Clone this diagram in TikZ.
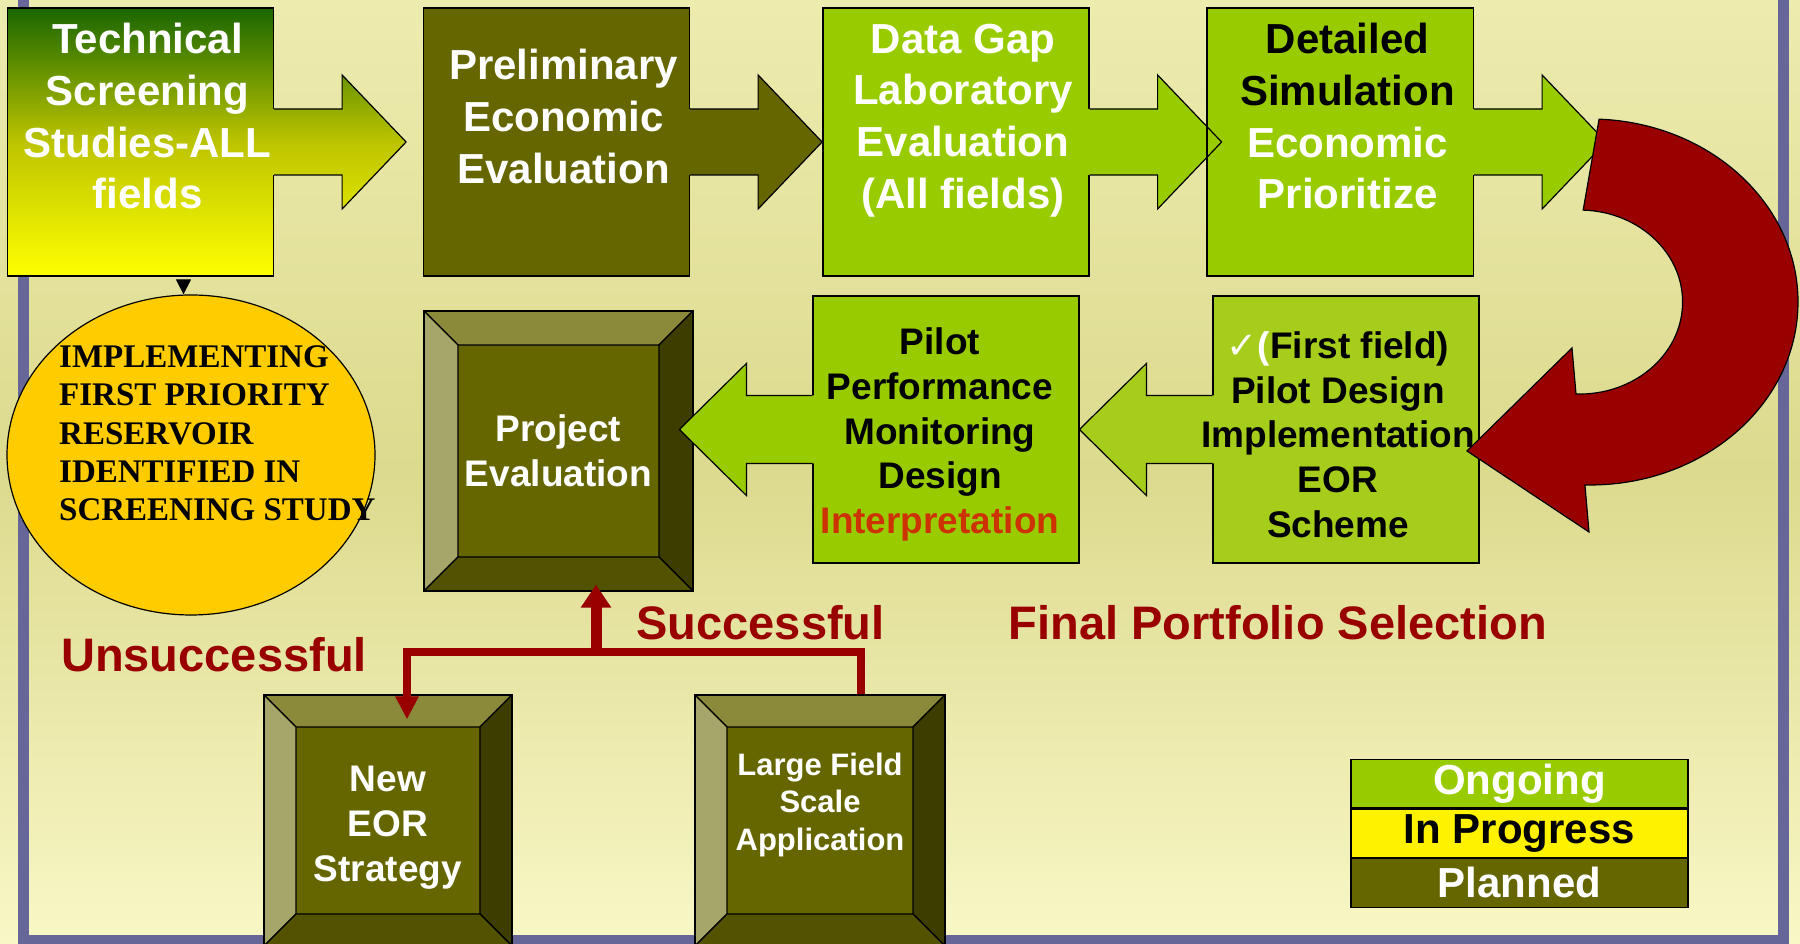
\documentclass[tikz,border=0pt]{standalone}
\usepackage{fontspec}
\setmainfont{Liberation Sans}
\newfontfamily\ellfont{Liberation Serif}
\newfontfamily\tickfont{DejaVu Sans}
\usetikzlibrary{positioning,shapes.geometric,arrows.meta}

\definecolor{bgtop}{HTML}{EDECAF}
\definecolor{bgmid}{HTML}{DCDA8E}
\definecolor{bgbot}{HTML}{F9F7C6}
\definecolor{framecol}{HTML}{666699}
\definecolor{planned}{HTML}{666600}
\definecolor{ongoing}{HTML}{99CC00}
\definecolor{pilotgreen}{HTML}{A6CC1C}
\definecolor{scrgreen}{HTML}{1A6600}
\definecolor{scrmid}{HTML}{BCC400}
\definecolor{darkred}{HTML}{990000}
\definecolor{interp}{HTML}{CC3300}
\definecolor{gold}{HTML}{FFCC00}
\definecolor{bvtop}{HTML}{8A8A3A}
\definecolor{bvleft}{HTML}{A6A66A}
\definecolor{bvright}{HTML}{3D3D00}
\definecolor{bvbot}{HTML}{525200}

\newcommand{\fsz}[2]{\fontsize{#1pt}{#2pt}\selectfont}
\newcommand{\shl}[2][14pt]{\makebox[0pt]{\hspace*{#1}#2}}

\newcommand{\boxarrowR}[2]{%
  \path[#2] ([xshift=-2pt,yshift=33pt]#1.east) -- ++(70pt,0pt) -- ++(0pt,34pt)
    -- ++(64pt,-67pt) -- ++(-64pt,-67pt) -- ++(0pt,34pt) -- ++(-70pt,0pt) -- cycle;
  \draw[line width=1.2pt] ([yshift=33pt]#1.east) -- ++(68pt,0pt) -- ++(0pt,34pt)
    -- ++(64pt,-67pt) -- ++(-64pt,-67pt) -- ++(0pt,34pt) -- ++(-68pt,0pt);}

\newcommand{\boxarrowL}[2]{%
  \path[#2] ([xshift=2pt,yshift=34pt]#1.west) -- ++(-68pt,0pt) -- ++(0pt,32pt)
    -- ++(-67pt,-66pt) -- ++(67pt,-66pt) -- ++(0pt,32pt) -- ++(68pt,0pt) -- cycle;
  \draw[line width=1.2pt] ([yshift=34pt]#1.west) -- ++(-66pt,0pt) -- ++(0pt,32pt)
    -- ++(-67pt,-66pt) -- ++(67pt,-66pt) -- ++(0pt,32pt) -- ++(66pt,0pt);}

\tikzset{
  stage/.style={draw, line width=1.2pt, minimum width=266pt, minimum height=268pt,
    inner sep=0pt, align=center, font=\bfseries\fsz{42}{51.7}},
  pilot/.style={stage, minimum height=267pt, font=\bfseries\fsz{37}{44.8}},
  bevel/.style={draw, line width=1.2pt, fill=planned, text=white, inner sep=0pt,
    align=center, font=\bfseries\fsz{37}{45},
    path picture={
      \coordinate (o1) at (path picture bounding box.north west);
      \coordinate (o2) at (path picture bounding box.south east);
      \coordinate (i1) at ([shift={(#1,-#1)}]o1);
      \coordinate (i2) at ([shift={(-#1,#1)}]o2);
      \filldraw[draw=black, fill=bvtop, line width=1.2pt] (o1) -- (o1 -| o2) -- (i1 -| i2) -- (i1) -- cycle;
      \filldraw[draw=black, fill=bvleft, line width=1.2pt] (o1) -- (i1) -- (i1 |- i2) -- (o1 |- o2) -- cycle;
      \filldraw[draw=black, fill=bvright, line width=1.2pt] (o1 -| o2) -- (o2) -- (i2) -- (i1 -| i2) -- cycle;
      \filldraw[draw=black, fill=bvbot, line width=1.2pt] (o1 |- o2) -- (o2) -- (i2) -- (i1 |- i2) -- cycle;
    }},
  bevel/.default=32pt,
  redline/.style={draw=darkred, line width=8pt},
  lbl/.style={text=darkred, inner sep=0pt, font=\bfseries\fsz{47}{56}},
  legend/.style={draw, line width=1.2pt, minimum width=337pt, minimum height=48.5pt,
    inner sep=0pt, font=\bfseries\fsz{42}{48}}
}

\begin{document}
\begin{tikzpicture}[x=1pt,y=1pt]
\useasboundingbox (0,0) rectangle (1800,944);
\shade[top color=bgtop, bottom color=bgbot, middle color=bgmid] (0,0) rectangle (1800,944);
\draw[framecol, line width=11pt] (23,960) -- (23,3.5) -- (1783.5,3.5) -- (1783.5,960);

\node[stage, top color=scrgreen, bottom color=yellow, middle color=scrmid, text=white] (tss)
  at (140.5,802) {\shl{Technical}\\\shl{Screening}\\\shl{Studies-ALL}\\\shl{fields}\\~};
\node[stage, fill=planned, text=white] (prelim) at (556.5,802)
  {\shl{Preliminary}\\\shl{Economic}\\\shl{Evaluation}\\~};
\node[stage, fill=ongoing, text=white] (datagap) at (956,802)
  {\shl{Data Gap}\\\shl{Laboratory}\\\shl{Evaluation}\\\shl{(All fields)}\\~};
\node[stage, fill=ongoing] (detsim) at (1340.5,802)
  {\shl{Detailed}\\\shl{Simulation}\\\shl{\textcolor{white}{Economic}}\\\shl{\textcolor{white}{Prioritize}}\\~};
\boxarrowR{tss}{top color=scrgreen!50!scrmid, bottom color=scrmid!50!yellow, middle color=scrmid}
\boxarrowR{prelim}{fill=planned}
\boxarrowR{datagap}{fill=ongoing}
\boxarrowR{detsim}{fill=ongoing}
\draw[line width=1.2pt] (detsim.north west) -- (detsim.south west);

\node[ellipse, draw, line width=1.2pt, fill=gold, minimum width=368pt, minimum height=320pt,
  inner sep=0pt] (impl) at (191,489) {};
\node[anchor=west, align=left, inner sep=0pt, font=\ellfont\bfseries\fsz{33}{38.3}] (impltxt)
  at (59,510.5) {IMPLEMENTING\\FIRST PRIORITY\\RESERVOIR\\IDENTIFIED IN\\SCREENING STUDY};
\coordinate (tri) at ([xshift=43pt]tss.south);
\draw[-{Triangle[length=15pt,width=15pt]}, line width=1pt, shorten <=4pt] (tri) -- (tri |- impl.north);

\node[bevel=34pt, minimum width=269pt, minimum height=280pt] (peval) at (558.5,493)
  {Project\\Evaluation};
\node[pilot, fill=ongoing] (pperf) at (946,514.5)
  {\rule{0pt}{37pt}\shl[-12pt]{Pilot}\\\shl[-12pt]{Performance}\\\shl[-12pt]{Monitoring}\\\shl[-12pt]{Design}\\\shl[-12pt]{\textcolor{interp}{Interpretation}}};
\boxarrowL{pperf}{fill=ongoing}
\node[pilot, fill=pilotgreen] (pdesign) at (1346,514.5) {};
\boxarrowL{pdesign}{fill=pilotgreen}
\node[pilot, draw=none] (pdesigntxt) at (pdesign)
  {\rule{0pt}{37pt}\shl[-16pt]{{\tickfont\mdseries\textcolor{white}{✓}}\textcolor{white}{(}First field)}\\\shl[-16pt]{Pilot Design}\\\shl[-16pt]{Implementation}\\\shl[-16pt]{EOR}\\\shl[-16pt]{Scheme}};

\coordinate (turn) at (1590,642);
\draw[fill=darkred, line width=1.2pt] ([shift={(87.5:208pt and 183pt)}]turn)
  arc[start angle=87.5, end angle=-91.4, x radius=208pt, y radius=183pt]
  -- (1589,412) -- (1467,493) -- (1572,596) -- (1576,550)
  arc[start angle=-92, end angle=88, x radius=103pt, y radius=92pt] -- cycle;

\node[bevel, minimum width=248pt, minimum height=251pt] (neweor) at (388,123.5)
  {\rule{0pt}{39pt}New\\EOR\\Strategy};
\node[bevel, minimum width=250pt, minimum height=251pt, font=\bfseries\fsz{31}{37.5}] (lfs)
  at (820,123.5) {Large Field\\Scale\\Application\\~};

\coordinate (fork) at (596,292);
\draw[redline, -{Triangle[length=23pt,width=22pt]}, shorten >=-25pt]
  ([xshift=41pt]lfs.north) |- (fork) -| ([xshift=19pt]neweor.north);
\draw[redline, line width=11pt, -{Triangle[length=23pt,width=29pt]}, shorten >=-7pt]
  (fork) -- (fork |- peval.south);

\node[lbl] (unsucc) at (214,289) {Unsuccessful};
\node[lbl] (succ) at (760.5,321) {Successful};
\node[lbl] (portfolio) at (1277.75,321) {Final Portfolio Selection};

\node[legend, fill=ongoing, text=white] (lgon) at (1519.5,160.5) {Ongoing};
\node[legend, fill=yellow, below=0pt of lgon] (lgip) {In Progress};
\node[legend, fill=planned, text=white, below=0pt of lgip] (lgpl) {Planned};
\end{tikzpicture}
\end{document}
